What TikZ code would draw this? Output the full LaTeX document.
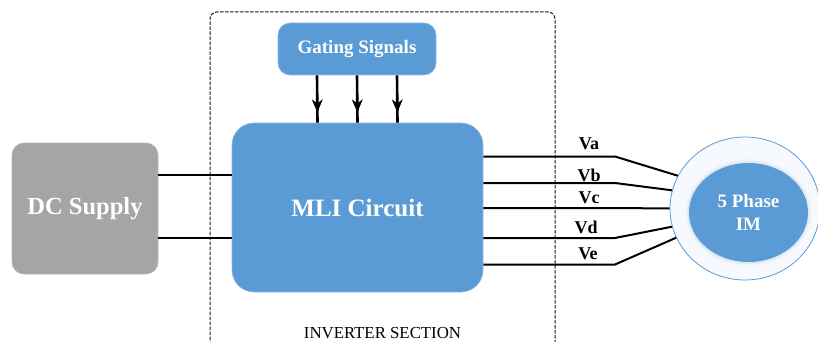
\documentclass[tikz,border=0pt]{standalone}
\usepackage{fontspec}
\setmainfont{Liberation Serif}
\usetikzlibrary{calc,arrows.meta,decorations.markings,shapes.geometric}
\definecolor{boxblue}{HTML}{5B9BD5}
\definecolor{boxgray}{HTML}{A5A5A5}
\definecolor{halo}{HTML}{D9E3EE}
\definecolor{ring}{HTML}{F6F9FD}
\tikzset{
  blk/.style={rounded corners=#1, inner sep=0pt, text=white, font=\bfseries},
  bluebox/.style={blk=#1, fill=boxblue, draw=boxblue!70!white, line width=0.6pt},
  graybox/.style={blk=#1, fill=boxgray, draw=boxgray!80!white, line width=0.6pt},
  wire/.style={line width=2pt, black},
  gatearrow/.style={line width=2.6pt, black, postaction={decorate},
    decoration={markings, mark=at position 0.78 with {\arrow[line width=0.8pt]{Stealth[length=13pt,width=11pt]}}}},
  lbl/.style={font=\bfseries\fontsize{18}{20}\selectfont, inner sep=0pt},
}
\begin{document}
\begin{tikzpicture}[x=1pt,y=-1pt]
\useasboundingbox (0,0) rectangle (818,342);
\clip (0,0) rectangle (818,342);
% inverter section
\draw[dash pattern=on 3.5pt off 1.5pt, line width=1pt, black!90, rounded corners=7pt] (210,360) -- (210,12) -- (555,12) -- (555,360);
\node[font=\fontsize{16.8}{18}\selectfont, inner sep=0pt] (inv) at (382.5,333) {INVERTER SECTION};
% blocks
\node[bluebox=12pt, minimum width=158pt, minimum height=52pt, font=\bfseries\fontsize{19}{21}\selectfont] (gate) at (357,49) {Gating Signals};
\node[bluebox=22pt, minimum width=251pt, minimum height=169pt, font=\bfseries\fontsize{25}{29}\selectfont] (mli) at (357.5,207.5) {MLI Circuit};
\node[graybox=12pt, minimum width=146pt, minimum height=131pt, font=\bfseries\fontsize{24.5}{28}\selectfont] (dc) at (85,208.5) {DC Supply};
% motor
\node[ellipse, draw=boxblue, line width=0.8pt, fill=ring, minimum width=150pt, minimum height=143pt, inner sep=0pt] (motor) at (745,208.5) {};
\fill[halo!35!white] (748.5,212.5) ellipse [x radius=64pt, y radius=54pt];
\fill[halo!80!white] (748.5,212.5) ellipse [x radius=61.5pt, y radius=51.5pt];
\node[ellipse, fill=boxblue, minimum width=119pt, minimum height=99pt, inner sep=0pt, text=white, align=center, font=\bfseries\fontsize{19}{23}\selectfont] (im) at (748.5,212.5) {5 Phase\\IM};
% gating arrows
\foreach \dx in {-40,0,40}
  \draw[gatearrow] ($(gate.south)+(\dx,0)$) -- ($(mli.north)+(\dx,0)$);
% dc wires
\draw[wire, line width=2.3pt] ($(dc.east)+(0,-33.5)$) -- ($(mli.west)+(0,-32.5)$);
\draw[wire, line width=2.3pt] ($(dc.east)+(0,29.5)$) -- ($(mli.west)+(0,30.5)$);
% phase wires
\coordinate (ba) at (615,156.5);
\coordinate (bb) at (615,183);
\coordinate (bc) at (615,208);
\coordinate (bd) at (615,238);
\coordinate (be) at (615,264.5);
\draw[wire] (mli.east |- ba) -- (ba) -- (motor.154);
\draw[wire] (mli.east |- bb) -- (bb) -- (motor.166);
\draw[wire] (mli.east |- bc) -- (bc) -- (motor.180);
\draw[wire] (mli.east |- bd) -- (bd) -- (motor.194);
\draw[wire] (mli.east |- be) -- (be) -- (motor.203);
% labels
\node[lbl] (la) at (589,144) {Va};
\node[lbl] (lb) at (589,175) {Vb};
\node[lbl] (lc) at (589,198) {Vc};
\node[lbl] (ld) at (586,227) {Vd};
\node[lbl] (le) at (588,254) {Ve};
\end{tikzpicture}
\end{document}
